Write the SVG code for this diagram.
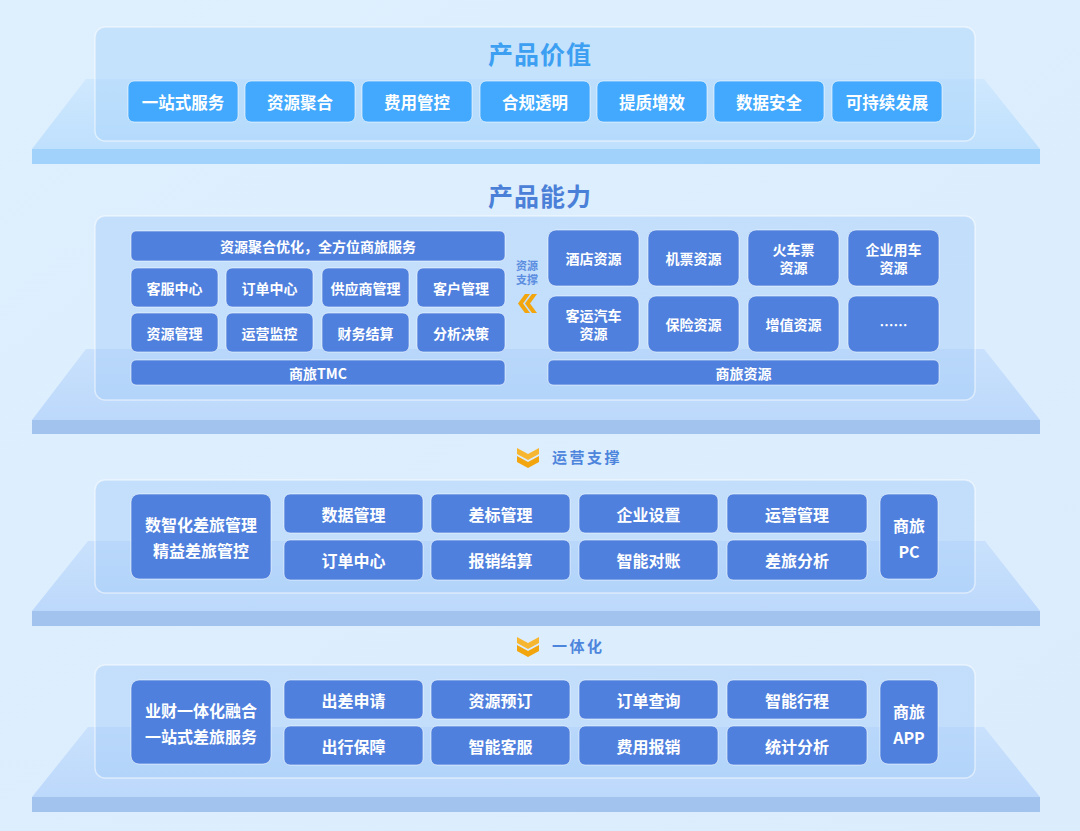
<svg xmlns="http://www.w3.org/2000/svg" width="1080" height="831" viewBox="0 0 1080 831">
<defs>
<linearGradient id="bg" x1="0" y1="0" x2="1" y2="1"><stop offset="0" stop-color="#deeffe"/><stop offset="1" stop-color="#dbecfd"/></linearGradient>
<linearGradient id="face1" x1="0" y1="0" x2="0" y2="1"><stop offset="0" stop-color="#cfe8fe"/><stop offset="1" stop-color="#bfe0fd"/></linearGradient>
<linearGradient id="face2" x1="0" y1="0" x2="0" y2="1"><stop offset="0" stop-color="#c9e1fc"/><stop offset="1" stop-color="#bcd8fb"/></linearGradient>
<style>
.card1{fill:#a6d3fb;fill-opacity:.45;stroke:#ffffff;stroke-opacity:.5;stroke-width:1.5}
.card2{fill:#a3cbf8;fill-opacity:.45;stroke:#ffffff;stroke-opacity:.5;stroke-width:1.5}
.slab1{fill:#a0d2fb}
.slab2{fill:#a3c3ef}
.v{fill:#42a9fe;stroke:#ffffff;stroke-opacity:.6;stroke-width:1}
.b{fill:#4f80de;stroke:#ffffff;stroke-opacity:.55;stroke-width:1}
text{font-family:"Noto Sans CJK SC","Noto Sans",sans-serif;font-weight:700;text-anchor:middle;dominant-baseline:central}
.tw{fill:#ffffff;font-size:14px}
.tv{fill:#ffffff;font-size:16.5px}
.tl{fill:#ffffff;font-size:16px}
.h1{fill:#3c9ff2;font-size:25px;letter-spacing:1px}
.h2{fill:#4b80d8;font-size:25px;letter-spacing:1px}
.lab{fill:#4e85dc;font-size:15px;letter-spacing:2.5px;text-anchor:start}
.sm{fill:#5b8de0;font-size:11px}
.arr{fill:#f2a50c}
.arr2{fill:#f7b630}
</style>
</defs>
<rect width="1080" height="831" fill="url(#bg)"/>

<!-- platforms -->
<g id="platforms">
<polygon points="86,79 984,79 1040,149 32,149" fill="url(#face1)"/>
<rect class="slab1" x="32" y="149" width="1008" height="15"/>
<polygon points="86,349 984,349 1040,420 32,420" fill="url(#face2)"/>
<rect class="slab2" x="32" y="420" width="1008" height="14"/>
<polygon points="88,541 985,541 1040,611 32,611" fill="url(#face2)"/>
<rect class="slab2" x="32" y="611" width="1008" height="15"/>
<polygon points="88,727 984,727 1040,797 32,797" fill="url(#face2)"/>
<rect class="slab2" x="32" y="797" width="1008" height="15"/>
</g>

<!-- section 1: product value -->
<g id="sec-value">
<rect class="card1" x="95" y="27" width="880" height="114" rx="10"/>
<text class="h1" x="540" y="53">产品价值</text>
<g id="v1"><rect class="v" x="128" y="81" width="110" height="41" rx="6"/><text class="tv" x="183" y="101.5">一站式服务</text></g>
<g id="v2"><rect class="v" x="245" y="81" width="110" height="41" rx="6"/><text class="tv" x="300" y="101.5">资源聚合</text></g>
<g id="v3"><rect class="v" x="362" y="81" width="110" height="41" rx="6"/><text class="tv" x="417" y="101.5">费用管控</text></g>
<g id="v4"><rect class="v" x="480" y="81" width="110" height="41" rx="6"/><text class="tv" x="535" y="101.5">合规透明</text></g>
<g id="v5"><rect class="v" x="597" y="81" width="110" height="41" rx="6"/><text class="tv" x="652" y="101.5">提质增效</text></g>
<g id="v6"><rect class="v" x="714" y="81" width="110" height="41" rx="6"/><text class="tv" x="769" y="101.5">数据安全</text></g>
<g id="v7"><rect class="v" x="832" y="81" width="110" height="41" rx="6"/><text class="tv" x="887" y="101.5">可持续发展</text></g>
</g>

<!-- section 2: product capability -->
<text class="h2" x="540" y="195">产品能力</text>
<g id="sec-capability">
<rect class="card2" x="95" y="216" width="880" height="184" rx="10"/>
<g id="c-top"><rect class="b" x="131" y="231" width="374" height="30" rx="5"/><text class="tw" x="318" y="246">资源聚合优化，全方位商旅服务</text></g>
<g id="c1"><rect class="b" x="131" y="268" width="87" height="39" rx="6"/><text class="tw" x="174.5" y="287.5">客服中心</text></g>
<g id="c2"><rect class="b" x="226" y="268" width="87" height="39" rx="6"/><text class="tw" x="269.5" y="287.5">订单中心</text></g>
<g id="c3"><rect class="b" x="322" y="268" width="87" height="39" rx="6"/><text class="tw" x="365.5" y="287.5">供应商管理</text></g>
<g id="c4"><rect class="b" x="417" y="268" width="88" height="39" rx="6"/><text class="tw" x="461" y="287.5">客户管理</text></g>
<g id="c5"><rect class="b" x="131" y="313" width="87" height="39" rx="6"/><text class="tw" x="174.5" y="332.5">资源管理</text></g>
<g id="c6"><rect class="b" x="226" y="313" width="87" height="39" rx="6"/><text class="tw" x="269.5" y="332.5">运营监控</text></g>
<g id="c7"><rect class="b" x="322" y="313" width="87" height="39" rx="6"/><text class="tw" x="365.5" y="332.5">财务结算</text></g>
<g id="c8"><rect class="b" x="417" y="313" width="88" height="39" rx="6"/><text class="tw" x="461" y="332.5">分析决策</text></g>
<g id="c-tmc"><rect class="b" x="131" y="360" width="374" height="25" rx="5"/><text class="tw" x="318" y="372.5">商旅TMC</text></g>

<g id="r1"><rect class="b" x="548" y="230" width="91" height="56" rx="8"/><text class="tw" x="593.5" y="258">酒店资源</text></g>
<g id="r2"><rect class="b" x="648" y="230" width="91" height="56" rx="8"/><text class="tw" x="693.5" y="258">机票资源</text></g>
<g id="r3"><rect class="b" x="748" y="230" width="91" height="56" rx="8"/><text class="tw" x="793.5" y="249">火车票</text><text class="tw" x="793.5" y="267">资源</text></g>
<g id="r4"><rect class="b" x="848" y="230" width="91" height="56" rx="8"/><text class="tw" x="893.5" y="249">企业用车</text><text class="tw" x="893.5" y="267">资源</text></g>
<g id="r5"><rect class="b" x="548" y="296" width="91" height="56" rx="8"/><text class="tw" x="593.5" y="315">客运汽车</text><text class="tw" x="593.5" y="333">资源</text></g>
<g id="r6"><rect class="b" x="648" y="296" width="91" height="56" rx="8"/><text class="tw" x="693.5" y="324">保险资源</text></g>
<g id="r7"><rect class="b" x="748" y="296" width="91" height="56" rx="8"/><text class="tw" x="793.5" y="324">增值资源</text></g>
<g id="r8"><rect class="b" x="848" y="296" width="91" height="56" rx="8"/><text class="tw" x="893.5" y="324">……</text></g>
<g id="r-res"><rect class="b" x="548" y="360" width="391" height="25" rx="5"/><text class="tw" x="743.5" y="372.5">商旅资源</text></g>
</g>

<!-- section 3: operations -->
<g id="sec-ops">
<rect class="card2" x="95" y="480" width="880" height="113" rx="10"/>
<g id="o-main"><rect class="b" x="131" y="494" width="140" height="85" rx="8"/><text class="tl" x="201" y="524">数智化差旅管理</text><text class="tl" x="201" y="550">精益差旅管控</text></g>
<g id="o1"><rect class="b" x="284" y="494" width="139" height="39" rx="6"/><text class="tl" x="353.5" y="513.5">数据管理</text></g>
<g id="o2"><rect class="b" x="431" y="494" width="139" height="39" rx="6"/><text class="tl" x="500.5" y="513.5">差标管理</text></g>
<g id="o3"><rect class="b" x="579" y="494" width="139" height="39" rx="6"/><text class="tl" x="648.5" y="513.5">企业设置</text></g>
<g id="o4"><rect class="b" x="727" y="494" width="140" height="39" rx="6"/><text class="tl" x="797" y="513.5">运营管理</text></g>
<g id="o5"><rect class="b" x="284" y="540" width="139" height="40" rx="6"/><text class="tl" x="353.5" y="560">订单中心</text></g>
<g id="o6"><rect class="b" x="431" y="540" width="139" height="40" rx="6"/><text class="tl" x="500.5" y="560">报销结算</text></g>
<g id="o7"><rect class="b" x="579" y="540" width="139" height="40" rx="6"/><text class="tl" x="648.5" y="560">智能对账</text></g>
<g id="o8"><rect class="b" x="727" y="540" width="140" height="40" rx="6"/><text class="tl" x="797" y="560">差旅分析</text></g>
<g id="o-pc"><rect class="b" x="880" y="494" width="58" height="85" rx="8"/><text class="tl" x="909" y="525">商旅</text><text class="tl" x="909" y="551">PC</text></g>
</g>

<!-- section 4: integration -->
<g id="sec-int">
<rect class="card2" x="95" y="665" width="880" height="113" rx="10"/>
<g id="i-main"><rect class="b" x="131" y="680" width="140" height="84" rx="8"/><text class="tl" x="201" y="710">业财一体化融合</text><text class="tl" x="201" y="736">一站式差旅服务</text></g>
<g id="i1"><rect class="b" x="284" y="680" width="139" height="39" rx="6"/><text class="tl" x="353.5" y="699.5">出差申请</text></g>
<g id="i2"><rect class="b" x="431" y="680" width="139" height="39" rx="6"/><text class="tl" x="500.5" y="699.5">资源预订</text></g>
<g id="i3"><rect class="b" x="579" y="680" width="139" height="39" rx="6"/><text class="tl" x="648.5" y="699.5">订单查询</text></g>
<g id="i4"><rect class="b" x="727" y="680" width="140" height="39" rx="6"/><text class="tl" x="797" y="699.5">智能行程</text></g>
<g id="i5"><rect class="b" x="284" y="726" width="139" height="39" rx="6"/><text class="tl" x="353.5" y="745.5">出行保障</text></g>
<g id="i6"><rect class="b" x="431" y="726" width="139" height="39" rx="6"/><text class="tl" x="500.5" y="745.5">智能客服</text></g>
<g id="i7"><rect class="b" x="579" y="726" width="139" height="39" rx="6"/><text class="tl" x="648.5" y="745.5">费用报销</text></g>
<g id="i8"><rect class="b" x="727" y="726" width="140" height="39" rx="6"/><text class="tl" x="797" y="745.5">统计分析</text></g>
<g id="i-app"><rect class="b" x="880" y="680" width="58" height="84" rx="8"/><text class="tl" x="909" y="711">商旅</text><text class="tl" x="909" y="737">APP</text></g>
</g>

<!-- connectors -->
<g id="connectors">
<g id="link-resource">
<text class="sm" x="527" y="265">资源</text>
<text class="sm" x="527" y="279">支撑</text>
<polygon class="arr" points="525,294 518,303.5 525,313 530,313 523,303.5 530,294"/>
<polygon class="arr" points="532,294 525,303.5 532,313 537,313 530,303.5 537,294"/>
</g>
<g id="link-ops">
<polygon class="arr2" points="517,448 528,454 539,448 539,454 528,460 517,454"/>
<polygon class="arr" points="517,456 528,462 539,456 539,462 528,468 517,462"/>
<text class="lab" x="552" y="456">运营支撑</text>
</g>
<g id="link-int">
<polygon class="arr2" points="517,637 528,643 539,637 539,643 528,649 517,643"/>
<polygon class="arr" points="517,645 528,651 539,645 539,651 528,657 517,651"/>
<text class="lab" x="552" y="645">一体化</text>
</g>
</g>
</svg>
